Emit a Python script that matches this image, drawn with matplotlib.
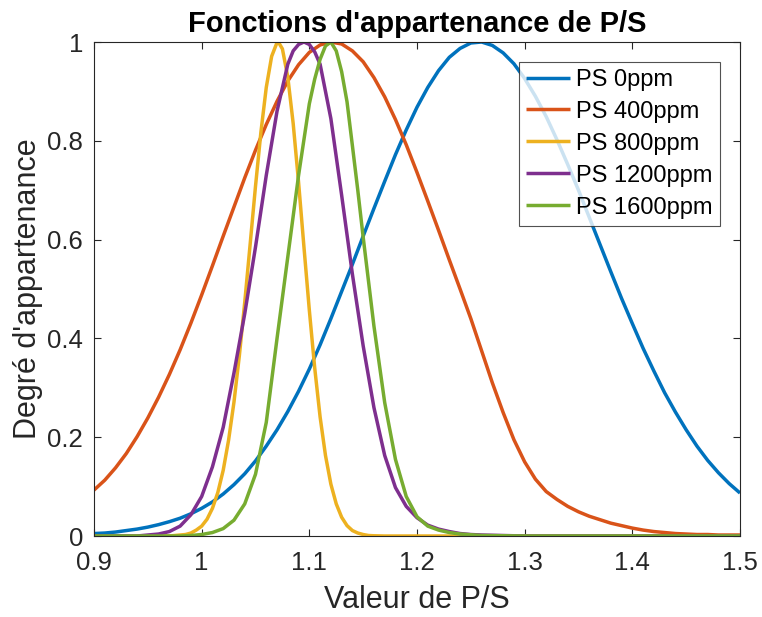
import numpy as np
import matplotlib.pyplot as plt

# values (P/S value, membership degree)
x_ps0 = [0.90, 0.91, 0.92, 0.93, 0.94, 0.95, 0.96, 0.97, 0.98, 0.99, 1.00, 1.01, 1.02, 1.03, 1.04, 1.05,
         1.06, 1.07, 1.08, 1.09, 1.10, 1.11, 1.12, 1.13, 1.14, 1.15, 1.16, 1.17, 1.18, 1.19, 1.20, 1.21,
         1.22, 1.23, 1.24, 1.25, 1.26, 1.27, 1.28, 1.29, 1.30, 1.31, 1.32, 1.33, 1.34, 1.35, 1.36, 1.37,
         1.38, 1.39, 1.40, 1.41, 1.42, 1.43, 1.44, 1.45, 1.46, 1.47, 1.48, 1.49, 1.50]
y_ps0 = [0.005, 0.006, 0.008, 0.011, 0.014, 0.018, 0.023, 0.029, 0.036, 0.045, 0.056, 0.069, 0.085, 0.104,
         0.126, 0.152, 0.182, 0.215, 0.252, 0.293, 0.338, 0.387, 0.44, 0.495, 0.55, 0.607, 0.663, 0.718,
         0.772, 0.822, 0.868, 0.908, 0.942, 0.969, 0.987, 0.998, 1.0, 0.993, 0.978, 0.956, 0.926, 0.89,
         0.849, 0.802, 0.752, 0.70, 0.645, 0.59, 0.535, 0.481, 0.43, 0.38, 0.334, 0.29, 0.251, 0.215,
         0.182, 0.153, 0.128, 0.106, 0.087]

x_ps400 = [0.90, 0.91, 0.92, 0.93, 0.94, 0.95, 0.96, 0.97, 0.98, 0.99, 1.00, 1.01, 1.02, 1.03, 1.04, 1.05,
           1.06, 1.07, 1.08, 1.09, 1.10, 1.11, 1.12, 1.13, 1.14, 1.15, 1.16, 1.17, 1.18, 1.19, 1.20, 1.21,
           1.22, 1.23, 1.24, 1.25, 1.26, 1.27, 1.28, 1.29, 1.30, 1.31, 1.32, 1.33, 1.34, 1.35, 1.36, 1.37,
           1.38, 1.39, 1.40, 1.41, 1.42, 1.43, 1.44, 1.45, 1.46, 1.47, 1.48, 1.49, 1.50]
y_ps400 = [0.093, 0.113, 0.138, 0.167, 0.201, 0.239, 0.281, 0.327, 0.377, 0.431, 0.488, 0.547, 0.607,
           0.666, 0.725, 0.781, 0.833, 0.88, 0.921, 0.954, 0.979, 0.994, 1.0, 0.996, 0.982, 0.96, 0.928,
           0.889, 0.843, 0.792, 0.736, 0.678, 0.619, 0.559, 0.50, 0.44, 0.375, 0.31, 0.25, 0.195, 0.15,
           0.115, 0.09, 0.074, 0.06, 0.049, 0.04, 0.033, 0.026, 0.021, 0.016, 0.012, 0.009, 0.007, 0.005,
           0.004, 0.003, 0.003, 0.002, 0.002, 0.002]

x_ps800 = [0.90, 0.97, 0.98, 0.985, 0.99, 0.995, 1.00, 1.005, 1.01, 1.015, 1.02, 1.025, 1.03, 1.035, 1.04,
           1.045, 1.05, 1.055, 1.06, 1.065, 1.07, 1.0712, 1.075, 1.08, 1.085, 1.09, 1.095, 1.10, 1.105, 1.11,
           1.115, 1.12, 1.125, 1.13, 1.135, 1.14, 1.145, 1.15, 1.155, 1.16, 1.17, 1.50]
y_ps800 = [0.0, 0.0, 0.002, 0.003, 0.006, 0.012, 0.02, 0.034, 0.056, 0.088, 0.133, 0.194, 0.271, 0.365,
           0.473, 0.59, 0.708, 0.817, 0.908, 0.971, 0.999, 1.0, 0.986, 0.929, 0.835, 0.716, 0.585, 0.457,
           0.34, 0.241, 0.163, 0.105, 0.065, 0.038, 0.021, 0.011, 0.006, 0.003, 0.001, 0.0005, 0.0, 0.0]

x_ps1200 = [0.90, 0.94, 0.95, 0.96, 0.97, 0.98, 0.99, 1.00, 1.01, 1.02, 1.03, 1.04, 1.05, 1.06, 1.07,
            1.08, 1.085, 1.09, 1.095, 1.10, 1.105, 1.11, 1.12, 1.13, 1.14, 1.15, 1.16, 1.17, 1.18, 1.19,
            1.20, 1.21, 1.22, 1.23, 1.24, 1.25, 1.26, 1.28, 1.30, 1.50]
y_ps1200 = [0.0, 0.0, 0.002, 0.004, 0.009, 0.02, 0.043, 0.08, 0.14, 0.22, 0.33, 0.45, 0.585, 0.73, 0.86,
            0.955, 0.982, 0.995, 1.0, 0.995, 0.98, 0.955, 0.845, 0.69, 0.53, 0.385, 0.26, 0.163, 0.098,
            0.06, 0.037, 0.022, 0.014, 0.009, 0.005, 0.003, 0.002, 0.001, 0.0, 0.0]

x_ps1600 = [0.90, 0.98, 0.99, 1.00, 1.01, 1.02, 1.03, 1.04, 1.05, 1.06, 1.07, 1.08, 1.09, 1.10, 1.105,
            1.11, 1.115, 1.12, 1.125, 1.13, 1.135, 1.14, 1.145, 1.15, 1.155, 1.16, 1.17, 1.18, 1.19, 1.20,
            1.21, 1.22, 1.23, 1.24, 1.26, 1.30, 1.50]
y_ps1600 = [0.0, 0.0, 0.001, 0.003, 0.007, 0.015, 0.032, 0.065, 0.125, 0.23, 0.40, 0.565, 0.73, 0.875,
            0.925, 0.965, 0.992, 1.0, 0.982, 0.94, 0.879, 0.79, 0.70, 0.605, 0.515, 0.425, 0.27, 0.155,
            0.08, 0.039, 0.02, 0.012, 0.007, 0.004, 0.001, 0.0, 0.0]

labels = ['PS 0ppm', 'PS 400ppm', 'PS 800ppm', 'PS 1200ppm', 'PS 1600ppm']
colors = ['#0072BD', '#D95319', '#EDB120', '#7E2F8E', '#77AC30']

plt.rcParams['font.family'] = ['Liberation Sans', 'DejaVu Sans']

fig = plt.figure(figsize=(7.62, 6.17), dpi=100)
ax = fig.add_axes([94/762, 1 - 536/617, (740 - 94)/762, (536 - 42)/617])

series = [(x_ps0, y_ps0), (x_ps400, y_ps400), (x_ps800, y_ps800), (x_ps1200, y_ps1200), (x_ps1600, y_ps1600)]
for (xs, ys), lab, c in zip(series, labels, colors):
    ax.plot(xs, ys, color=c, lw=2.5, label=lab, solid_joinstyle='round', solid_capstyle='butt')

ax.set_xlim(0.9, 1.5)
ax.set_ylim(0, 1)
ax.set_xticks(np.arange(0.9, 1.51, 0.1))
ax.set_xticklabels(['0.9', '1', '1.1', '1.2', '1.3', '1.4', '1.5'])
ax.set_yticks(np.arange(0, 1.01, 0.2))
ax.set_yticklabels(['0', '0.2', '0.4', '0.6', '0.8', '1'])
ax.tick_params(direction='in', top=True, right=True, length=5, width=0.8, colors='#262626',
               labelsize=18.5, labelcolor='#262626')
ax.tick_params(axis='x', pad=11)
ax.tick_params(axis='y', pad=8)
for s in ax.spines.values():
    s.set_color('#262626')
    s.set_linewidth(0.8)

ax.set_xlabel('Valeur de P/S', fontsize=22, color='#262626', labelpad=7)
ax.set_ylabel("Degré d'appartenance", fontsize=22, color='#262626', labelpad=3)
ax.set_title("Fonctions d'appartenance de P/S", fontsize=21, fontweight='bold', pad=7)

leg = ax.legend(loc='upper right', bbox_to_anchor=(0.969, 0.960), fontsize=17, frameon=True,
                fancybox=False, edgecolor='#262626', handlelength=1.9, handletextpad=0.25,
                labelspacing=0.42, borderpad=0.3, borderaxespad=0)
leg.get_frame().set_linewidth(0.8)
for line in leg.get_lines():
    line.set_linewidth(2.5)

fig.savefig('out.png', dpi=100)
